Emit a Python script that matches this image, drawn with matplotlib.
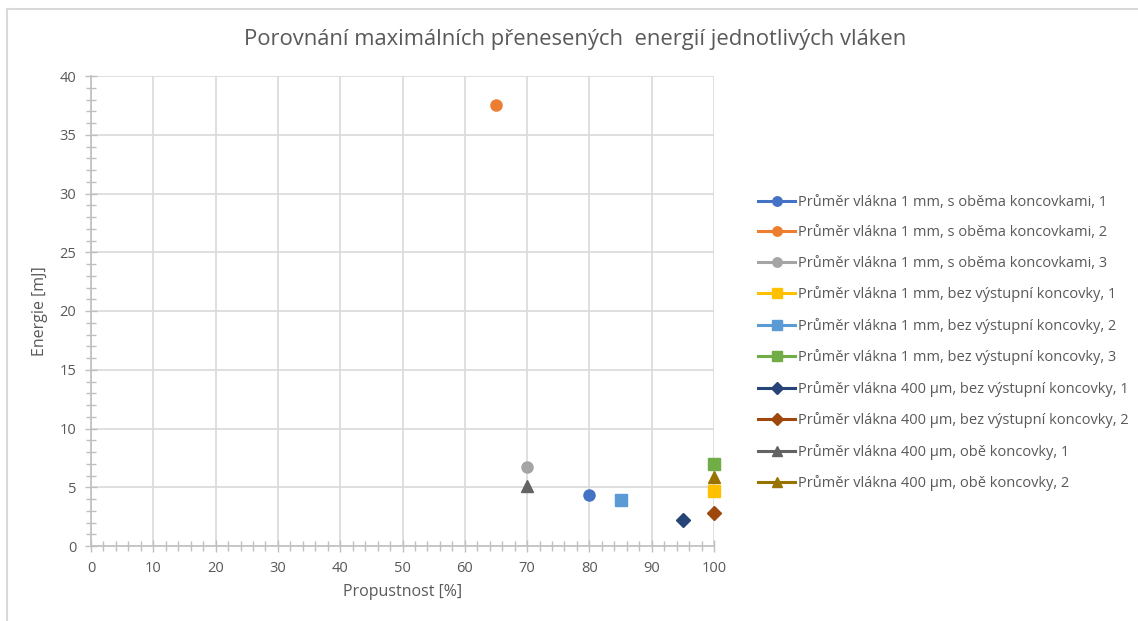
import numpy as np
import matplotlib
matplotlib.use("Agg")
from matplotlib import pyplot as plt
from matplotlib.ticker import MultipleLocator
from matplotlib.lines import Line2D

plt.rcParams['font.family'] = ['Open Sans', 'DejaVu Sans']

# data
labels = [
    "Průměr vlákna 1 mm, s oběma koncovkami, 1",
    "Průměr vlákna 1 mm, s oběma koncovkami, 2",
    "Průměr vlákna 1 mm, s oběma koncovkami, 3",
    "Průměr vlákna 1 mm, bez výstupní koncovky, 1",
    "Průměr vlákna 1 mm, bez výstupní koncovky, 2",
    "Průměr vlákna 1 mm, bez výstupní koncovky, 3",
    "Průměr vlákna 400 µm, bez výstupní koncovky, 1",
    "Průměr vlákna 400 µm, bez výstupní koncovky, 2",
    "Průměr vlákna 400 µm, obě koncovky, 1",
    "Průměr vlákna 400 µm, obě koncovky, 2",
]
propustnost = [80, 65, 70, 100, 85, 100, 95, 100, 70, 100]
energie = [4.3, 37.5, 6.7, 4.7, 3.9, 7.0, 2.2, 2.8, 5.1, 5.9]
markers = ['o', 'o', 'o', 's', 's', 's', 'D', 'D', '^', '^']
colors = ['#4472C4', '#ED7D31', '#A5A5A5', '#FFC000', '#5B9BD5',
          '#70AD47', '#264478', '#9E480E', '#636363', '#997300']

W, H = 1138, 621
fig = plt.figure(figsize=(W / 100, H / 100), dpi=100)
ax = fig.add_axes([91 / W, 1 - 546 / H, (714 - 91) / W, (546 - 76) / H])

for x, y, m, c, lab in zip(propustnost, energie, markers, colors, labels):
    ms = 7 if m == 'D' else 8
    ax.plot([x], [y], marker=m, color=c, markersize=ms, linestyle='-',
            linewidth=2.2, label=lab, clip_on=False, zorder=3)

ax.set_xlim(0, 100)
ax.set_ylim(0, 40)
ax.xaxis.set_major_locator(MultipleLocator(10))
ax.xaxis.set_minor_locator(MultipleLocator(2))
ax.yaxis.set_major_locator(MultipleLocator(5))
ax.yaxis.set_minor_locator(MultipleLocator(1))
ax.grid(True, which='major', color='#d9d9d9', linewidth=1.2)
ax.set_axisbelow(True)

for s in ['top', 'right']:
    ax.spines[s].set_visible(False)
for s in ['left', 'bottom']:
    ax.spines[s].set_color('#bfbfbf')
    ax.spines[s].set_linewidth(1.2)

ax.tick_params(which='both', direction='inout', color='#bfbfbf',
               labelcolor='#595959', labelsize=10.5)
ax.tick_params(which='major', length=9, width=1)
ax.tick_params(which='minor', length=7, width=1)
ax.tick_params(axis='x', pad=6)
ax.tick_params(axis='y', pad=6)

ax.set_xlabel("Propustnost [%]", fontsize=11.5, color='#595959', labelpad=6)
ax.set_ylabel("Energie [mJ]", fontsize=11.5, color='#595959', labelpad=8)

fig.text(575 / W, 1 - 40 / H, "Porovnání maximálních přenesených  energií jednotlivých vláken",
         ha='center', va='center', fontsize=15.8, color='#595959')

handles, labs = ax.get_legend_handles_labels()
fig.legend(handles, labs, loc='center left', bbox_to_anchor=(751 / W, 1 - 343 / H),
           frameon=False, fontsize=10.5, labelcolor='#595959', handlelength=2.5,
           handletextpad=0.25, labelspacing=1.06, borderpad=0, markerscale=0.85)

# chart area border
fig.add_artist(Line2D([7 / W, 1], [1 - 9 / H, 1 - 9 / H], color='#d9d9d9', linewidth=1.5))
fig.add_artist(Line2D([7 / W, 7 / W], [0, 1 - 9 / H], color='#d9d9d9', linewidth=1.5))

fig.savefig("out.png", dpi=100)
